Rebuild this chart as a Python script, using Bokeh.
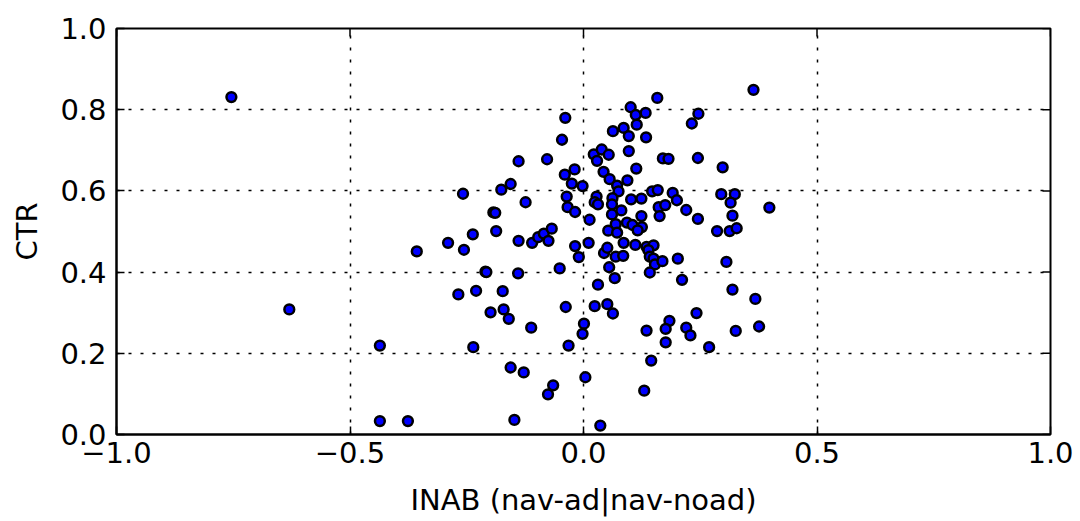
import math
from bokeh.plotting import figure
from bokeh.models import Range1d, FixedTicker, ColumnDataSource
from bokeh.embed import file_html
from bokeh.resources import INLINE

# INAB (nav-ad|nav-noad) values
inab = [
    -0.754, -0.630, -0.436, -0.436, -0.376, -0.357,
    -0.258, -0.176, -0.156, -0.139, -0.124, -0.078, -0.039, -0.046,
    -0.193, -0.189, -0.187, -0.237, -0.290, -0.256, -0.139, -0.110,
    -0.097, -0.085, -0.068, -0.075, -0.210, -0.208, -0.140, -0.051,
    -0.268, -0.230, -0.173, -0.038, -0.199, -0.171, -0.160, -0.112,
    -0.236, -0.032, -0.156, -0.128, -0.065, -0.076, -0.148,
    -0.040, -0.019, -0.025, -0.002, -0.036, -0.034, -0.018, -0.018,
    -0.010, 0.001, -0.002, 0.004, 0.036,
    0.011, 0.013, 0.022, 0.039, 0.054, 0.029, 0.043, 0.056, 0.072, 0.075,
    0.094, 0.028, 0.024, 0.031, 0.062, 0.061, 0.061, 0.081, 0.069, 0.093,
    0.105, 0.125, 0.116, 0.053, 0.072, 0.044, 0.051, 0.069, 0.085, 0.086,
    0.111, 0.055, 0.067, 0.031, 0.024, 0.051, 0.063, 0.063, 0.086, 0.097,
    0.097, 0.101, 0.112, 0.133, 0.114, 0.134, 0.158, 0.113, 0.170, 0.182,
    0.147, 0.159, 0.191, 0.200, 0.102, 0.124, 0.161, 0.175, 0.220, 0.124,
    0.163, 0.135, 0.150, 0.139, 0.142, 0.150, 0.153, 0.169, 0.202, 0.142,
    0.211, 0.145, 0.130, 0.176, 0.184, 0.176, 0.135, 0.220, 0.229, 0.242,
    0.232, 0.246, 0.245, 0.245,
    0.298, 0.295, 0.324, 0.315, 0.398, 0.319, 0.286, 0.313, 0.328, 0.306,
    0.319, 0.368, 0.326, 0.376, 0.269, 0.364,
]

# CTR values
ctr = [
    0.831, 0.308, 0.219, 0.033, 0.033, 0.451,
    0.593, 0.603, 0.617, 0.673, 0.572, 0.678, 0.780, 0.726,
    0.547, 0.546, 0.501, 0.493, 0.472, 0.455, 0.477, 0.472,
    0.486, 0.495, 0.507, 0.477, 0.401, 0.400, 0.397, 0.409,
    0.345, 0.354, 0.353, 0.314, 0.301, 0.308, 0.285, 0.263,
    0.215, 0.219, 0.165, 0.153, 0.121, 0.099, 0.036,
    0.640, 0.653, 0.618, 0.612, 0.586, 0.560, 0.548, 0.464,
    0.437, 0.273, 0.248, 0.141, 0.022,
    0.472, 0.529, 0.690, 0.702, 0.689, 0.674, 0.647, 0.629, 0.613, 0.599,
    0.626, 0.586, 0.572, 0.567, 0.582, 0.567, 0.542, 0.552, 0.518, 0.522,
    0.516, 0.511, 0.503, 0.502, 0.497, 0.447, 0.460, 0.438, 0.440, 0.472,
    0.467, 0.412, 0.385, 0.369, 0.316, 0.321, 0.298, 0.747, 0.755, 0.735,
    0.698, 0.806, 0.787, 0.792, 0.763, 0.732, 0.829, 0.655, 0.680, 0.679,
    0.599, 0.602, 0.595, 0.577, 0.579, 0.581, 0.560, 0.565, 0.553, 0.538,
    0.538, 0.462, 0.466, 0.454, 0.438, 0.433, 0.419, 0.427, 0.433, 0.399,
    0.381, 0.182, 0.108, 0.227, 0.280, 0.260, 0.256, 0.263, 0.244, 0.299,
    0.766, 0.790, 0.681, 0.531,
    0.658, 0.592, 0.592, 0.571, 0.559, 0.539, 0.501, 0.501, 0.508, 0.425,
    0.357, 0.334, 0.255, 0.266, 0.215, 0.849,
]

x_ticks = [-1.0, -0.5, 0.0, 0.5, 1.0]
x_tick_labels = ["\u22121.0", "\u22120.5", "0.0", "0.5", "1.0"]
y_ticks = [0.0, 0.2, 0.4, 0.6, 0.8, 1.0]
y_tick_labels = ["0.0", "0.2", "0.4", "0.6", "0.8", "1.0"]
x_min, x_max = -1.0, 1.0
y_min, y_max = 0.0, 1.0

FONT = "DejaVu Sans"
FS = "29px"

p = figure(width=1080, height=521, output_backend="svg", toolbar_location=None,
           x_range=Range1d(x_min, x_max), y_range=Range1d(y_min, y_max),
           min_border_left=116, min_border_right=30, min_border_top=28,
           min_border_bottom=87)
p.background_fill_color = "white"
p.border_fill_color = "white"
p.outline_line_color = "black"
p.outline_line_width = 2

for g, ticks in ((p.xgrid[0], x_ticks), (p.ygrid[0], y_ticks)):
    g.ticker = FixedTicker(ticks=ticks)
    g.grid_line_color = "black"
    g.grid_line_dash = "3 9"
    g.grid_line_width = 1.5

# inward ticks on the top and right edges (no labels)
p.ray(x=x_ticks, y=[y_max] * len(x_ticks), length=8, length_units="screen",
      angle=-math.pi / 2, line_color="black", line_width=1.5)
p.ray(x=[x_max] * len(y_ticks), y=y_ticks, length=8, length_units="screen",
      angle=math.pi, line_color="black", line_width=1.5)

src = ColumnDataSource(data=dict(x=inab, y=ctr))
p.scatter("x", "y", source=src, marker="circle", size=9.8,
          fill_color="#0000ff", line_color="black", line_width=2.5)

for ax, ticks, labels in ((p.xaxis[0], x_ticks, x_tick_labels),
                          (p.yaxis[0], y_ticks, y_tick_labels)):
    ax.ticker = FixedTicker(ticks=ticks)
    ax.major_label_overrides = {t: l for t, l in zip(ticks, labels)}
    ax.major_label_text_font = FONT
    ax.major_label_text_font_size = FS
    ax.major_label_text_color = "black"
    ax.axis_label_text_font = FONT
    ax.axis_label_text_font_size = FS
    ax.axis_label_text_font_style = "normal"
    ax.axis_label_text_color = "black"
    ax.axis_line_color = "black"
    ax.axis_line_width = 2
    ax.major_tick_in = 8
    ax.major_tick_out = 0
    ax.major_tick_line_width = 1.5
    ax.minor_tick_line_color = None

p.xaxis[0].axis_label = "INAB (nav-ad|nav-noad)"
p.yaxis[0].axis_label = "CTR"
p.xaxis[0].major_label_standoff = 7
p.xaxis[0].axis_label_standoff = 17
p.yaxis[0].major_label_standoff = 10
p.yaxis[0].axis_label_standoff = 13

open("out.html", "w").write(file_html(p, INLINE))
